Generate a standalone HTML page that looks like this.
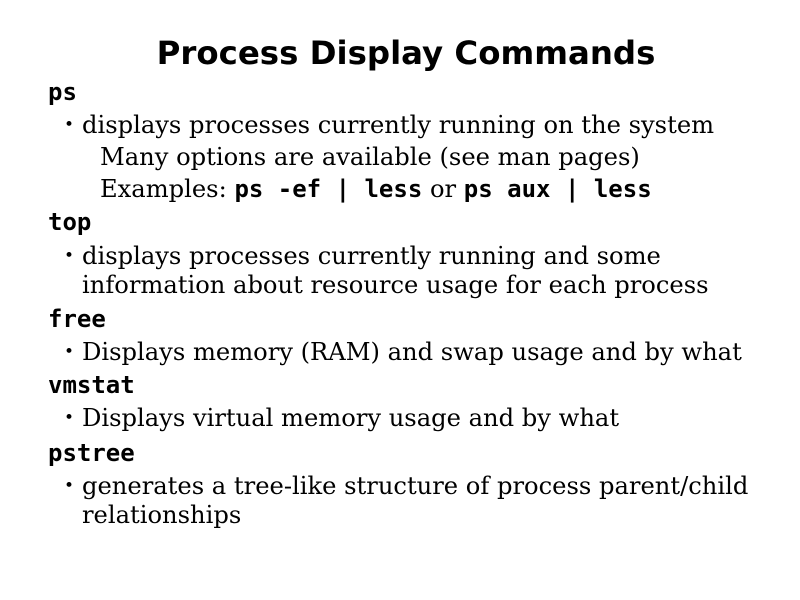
<!DOCTYPE html>
<html><head><meta charset="utf-8"><style>
body{margin:0;width:800px;height:600px;background:#fff;position:relative;overflow:hidden;color:#000}
.l{position:absolute;white-space:nowrap;line-height:30px;height:30px}
.t{font-family:"DejaVu Sans","Liberation Sans",sans-serif;font-weight:bold;font-size:32.4px;left:0;width:812px;text-align:center}
.c{font-family:"DejaVu Sans Mono","Liberation Mono",monospace;font-weight:bold;font-size:24px;left:48px}
.b{font-family:"DejaVu Serif","Liberation Serif",serif;font-size:24.2px;left:82px}
.b.s{left:100px}
.b .m{font-family:"DejaVu Sans Mono","Liberation Mono",monospace;font-weight:bold;font-size:24px}
.d{position:absolute;left:64px;font-family:"DejaVu Serif",serif;font-size:17px;line-height:30px}
</style></head><body>
<div class="l t" style="top:38px">Process Display Commands</div>
<div class="l c" style="top:77px">ps</div>
<div class="d" style="top:110px">•</div><div class="l b" style="top:110px">displays processes currently running on the system</div>
<div class="l b s" style="top:142px">Many options are available (see man pages)</div>
<div class="l b s" style="top:174px">Examples: <span class="m">ps -ef | less</span> or <span class="m">ps aux | less</span></div>
<div class="l c" style="top:207px">top</div>
<div class="d" style="top:241px">•</div><div class="l b" style="top:241px">displays processes currently running and some</div>
<div class="l b" style="top:270px">information about resource usage for each process</div>
<div class="l c" style="top:304px">free</div>
<div class="d" style="top:337px">•</div><div class="l b" style="top:337px">Displays memory (RAM) and swap usage and by what</div>
<div class="l c" style="top:370px">vmstat</div>
<div class="d" style="top:403px">•</div><div class="l b" style="top:403px">Displays virtual memory usage and by what</div>
<div class="l c" style="top:438px">pstree</div>
<div class="d" style="top:471px">•</div><div class="l b" style="top:471px">generates a tree-like structure of process parent/child</div>
<div class="l b" style="top:500px">relationships</div>
</body></html>
